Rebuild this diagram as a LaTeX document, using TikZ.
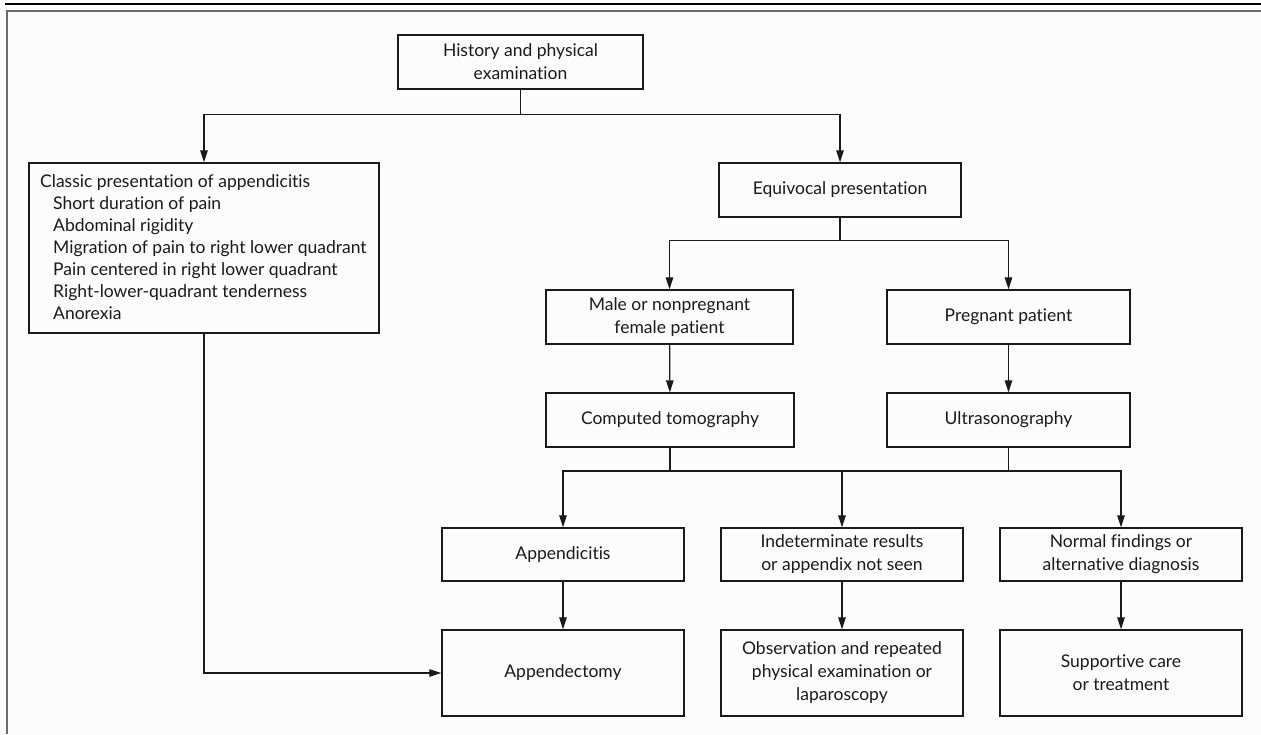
\documentclass[tikz,border=0pt]{standalone}
\usepackage{fontspec}
\setmainfont{Lato}[Ligatures=NoCommon]
\usetikzlibrary{arrows.meta,calc}
\definecolor{bg}{HTML}{FCFCFC}
\definecolor{frame}{HTML}{6B6B6B}
\definecolor{ink}{HTML}{1A1A1A}
\begin{document}
\begin{tikzpicture}[x=1pt,y=-1pt,
  box/.style={draw=ink,line width=1.3pt,fill=bg,minimum width=#1,inner sep=0pt,align=center,
    font=\fontsize{17.5}{23}\selectfont,text=ink},
  box/.default=244pt,
  arr/.style={draw=ink,line width=1.2pt,-{Triangle[length=12pt,width=7.5pt]}},
  ln/.style={draw=ink,line width=1.2pt}]
\useasboundingbox[fill=bg] (0,0) rectangle (1261,735);
% frame lines
\draw[line width=1.3pt,black] (5,4) -- (1261,4);
\draw[line width=2pt,frame] (7,11.5) -- (1261,11.5);
\draw[line width=2pt,frame] (7,10.5) -- (7,734);
% nodes
\node[box=245pt,minimum height=54pt] (hist) at (520.5,62) {History and physical\\examination};
\node[box=350pt,minimum height=170pt,align=left] (classic) at (204,248) {};
\node[anchor=north west,inner sep=0pt,font=\fontsize{17.5}{22}\selectfont,text=ink,align=left] (classictxt) at (40,174.5)
  {Classic presentation of appendicitis\\
   \hspace*{13pt}Short duration of pain\\
   \hspace*{13pt}Abdominal rigidity\\
   \hspace*{13pt}Migration of pain to right lower quadrant\\
   \hspace*{13pt}Pain centered in right lower quadrant\\
   \hspace*{13pt}Right-lower-quadrant tenderness\\
   \hspace*{13pt}Anorexia};
\node[box=242pt,minimum height=54pt] (equiv) at (840,190) {Equivocal presentation};
\node[box=247pt,minimum height=54pt] (male) at (669.5,317) {Male or nonpregnant\\female patient};
\node[box=243pt,minimum height=54pt] (preg) at (1008.5,317) {Pregnant patient};
\node[box=248pt,minimum height=54pt] (ct) at (670,420) {Computed tomography};
\node[box=243pt,minimum height=54pt] (us) at (1008.5,420) {Ultrasonography};
\node[box=242pt,minimum height=53pt] (appc) at (563,554.5) {Appendicitis};
\node[box=242pt,minimum height=53pt] (indet) at (842,554.5) {Indeterminate results\\or appendix not seen};
\node[box=242pt,minimum height=53pt] (normal) at (1121,554.5) {Normal findings or\\alternative diagnosis};
\node[box=242pt,minimum height=86pt] (appy) at (563,673) {Appendectomy};
\node[box=242pt,minimum height=86pt] (obs) at (842,673) {Observation and repeated\\physical examination or\\laparoscopy};
\node[box=242pt,minimum height=86pt] (supp) at (1121,673) {Supportive care\\or treatment};
% junctions
\coordinate (j1) at ($(hist.south)+(0,25)$);
\coordinate (j2) at ($(equiv.south)+(0,23)$);
\coordinate (bus) at (842,471);
% connectors
\draw[ln] (hist.south) -- (j1);
\draw[arr] (j1) -| (classic.north);
\draw[arr] (j1) -| (equiv.north);
\draw[ln] (equiv.south) -- (j2);
\draw[arr] (j2) -| (male.north);
\draw[arr] (j2) -| (preg.north);
\draw[arr] (male) -- (ct);
\draw[arr] (preg) -- (us);
\draw[ln] (ct.south) |- (bus);
\draw[ln] (us.south) |- (bus);
\draw[arr] (bus) -- (indet.north);
\draw[arr] (bus) -| (appc.north);
\draw[arr] (bus) -| (normal.north);
\draw[arr] (appc) -- (appy);
\draw[arr] (indet) -- (obs);
\draw[arr] (normal) -- (supp);
\draw[arr] (classic.south) |- (appy.west);
\end{tikzpicture}
\end{document}
